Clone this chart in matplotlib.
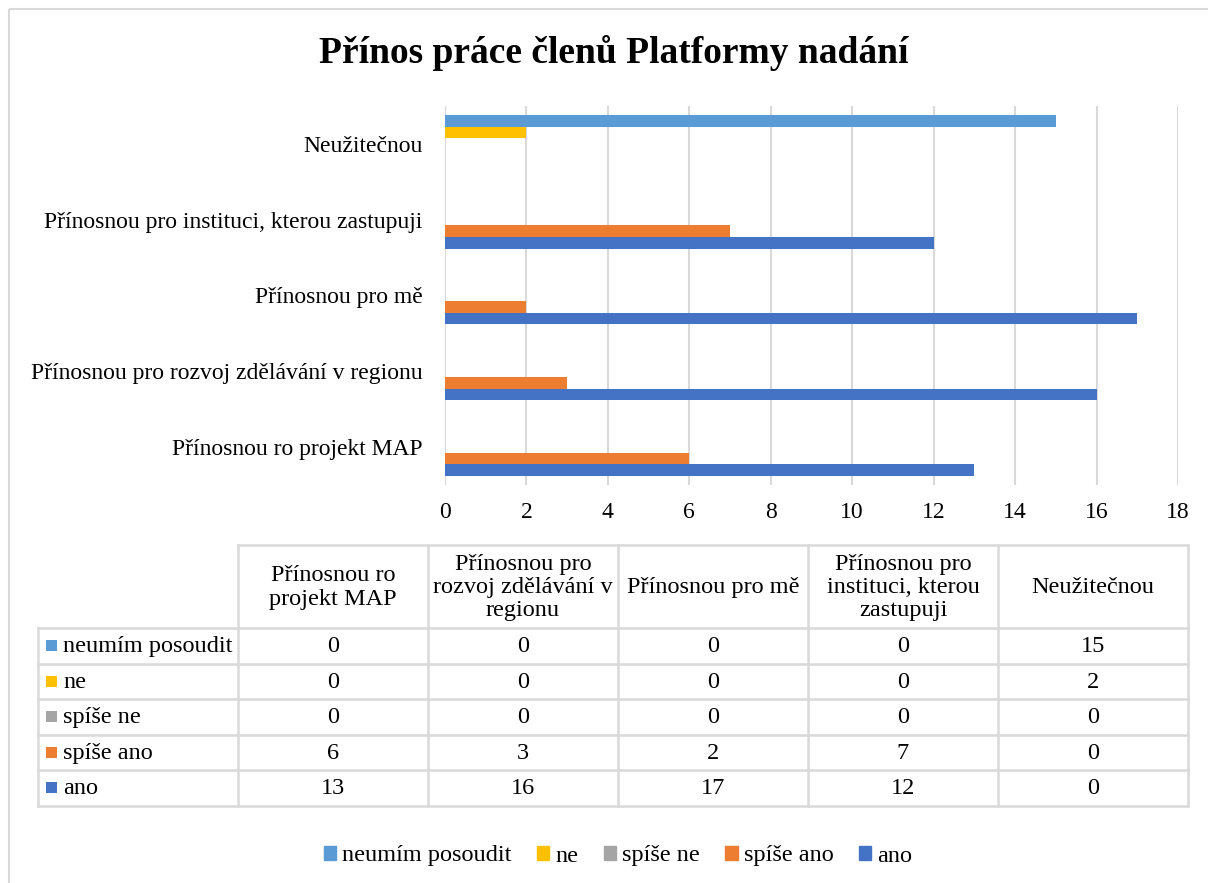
import numpy as np
import matplotlib.pyplot as plt
from matplotlib.patches import Patch, Rectangle

plt.rcParams['font.family'] = ['Liberation Serif', 'DejaVu Serif']

categories = ['Přínosnou ro projekt MAP', 'Přínosnou pro rozvoj zdělávání v regionu',
              'Přínosnou pro mě', 'Přínosnou pro instituci, kterou zastupuji', 'Neužitečnou']
header_labels = ['Přínosnou ro\nprojekt MAP', 'Přínosnou pro\nrozvoj zdělávání v\nregionu',
                 'Přínosnou pro mě', 'Přínosnou pro\ninstituci, kterou\nzastupuji', 'Neužitečnou']
series_names = ['neumím posoudit', 'ne', 'spíše ne', 'spíše ano', 'ano']
colors = ['#5B9BD5', '#FFC000', '#A5A5A5', '#ED7D31', '#4472C4']

neumim = [0, 0, 0, 0, 15]
ne = [0, 0, 0, 0, 2]
spise_ne = [0, 0, 0, 0, 0]
spise_ano = [6, 3, 2, 7, 0]
ano = [13, 16, 17, 12, 0]
values = [neumim, ne, spise_ne, spise_ano, ano]

W, H = 1208, 883
fig = plt.figure(figsize=(W / 100, H / 100), dpi=100)

# overlay axes in pixel coordinates for frame, table and legend
ov = fig.add_axes([0, 0, 1, 1])
ov.set_xlim(0, W)
ov.set_ylim(H, 0)
ov.axis('off')
ov.add_patch(Rectangle((9, 9), W, H, fill=False, edgecolor='#d9d9d9', lw=1.5))

# bar chart
ax = fig.add_axes([445 / W, 1 - 485 / H, 733 / W, (485 - 106) / H])
y = np.arange(len(categories))
h = 0.152
for k, (name, vals, c) in enumerate(zip(series_names, values, colors)):
    off = (2 - k) * h
    ax.barh(y + off, vals, height=h, color=c, label=name, zorder=3)
ax.set_xlim(0, 18)
ax.set_ylim(-0.5, 4.5)
ax.set_xticks(range(0, 19, 2))
ax.set_yticks(y)
ax.set_yticklabels(categories, fontsize=17)
ax.tick_params(axis='x', labelsize=17, length=0, pad=12)
ax.tick_params(axis='y', length=0, pad=16)
ax.grid(axis='x', color='#d9d9d9', lw=1.5, zorder=0)
for s in ax.spines.values():
    s.set_visible(False)

fig.text(614 / W, 1 - 53 / H, 'Přínos práce členů Platformy nadání',
         ha='center', va='center', fontsize=27, fontweight='bold')

# data table
gc = '#d9d9d9'
col_x = [38, 238, 428, 618, 808, 998, 1188]
row_y = [545, 628, 663.5, 699, 734.5, 770, 805.5]
ov.plot([col_x[1], col_x[-1]], [row_y[0], row_y[0]], color=gc, lw=1.8)
for yy in row_y[1:]:
    ov.plot([col_x[0], col_x[-1]], [yy, yy], color=gc, lw=1.8)
ov.plot([col_x[0], col_x[0]], [row_y[1], row_y[-1]], color=gc, lw=1.8)
for xx in col_x[1:]:
    ov.plot([xx, xx], [row_y[0], row_y[-1]], color=gc, lw=1.8)
for j, lab in enumerate(header_labels):
    ov.text((col_x[j + 1] + col_x[j + 2]) / 2, (row_y[0] + row_y[1]) / 2 + 1, lab,
            ha='center', va='center', fontsize=17.5, linespacing=1.15)
for i, (name, vals, c) in enumerate(zip(series_names, values, colors)):
    yc = (row_y[i + 1] + row_y[i + 2]) / 2
    ov.add_patch(Rectangle((46, yc - 5.5), 11, 11, color=c, lw=0))
    ov.text(63, yc + 1, name, ha='left', va='center', fontsize=17.5)
    for j, v in enumerate(vals):
        ov.text((col_x[j + 1] + col_x[j + 2]) / 2, yc + 1, str(v),
                ha='center', va='center', fontsize=17.5)

# legend
handles = [Patch(color=c, label=n) for n, c in zip(series_names, colors)]
fig.legend(handles=handles, loc='center', bbox_to_anchor=(618 / W, 1 - 856 / H),
           ncol=5, frameon=False, fontsize=17.5, handlelength=0.5, handleheight=0.5,
           handletextpad=0.25, columnspacing=1.05)

fig.savefig('out.png', dpi=100)
